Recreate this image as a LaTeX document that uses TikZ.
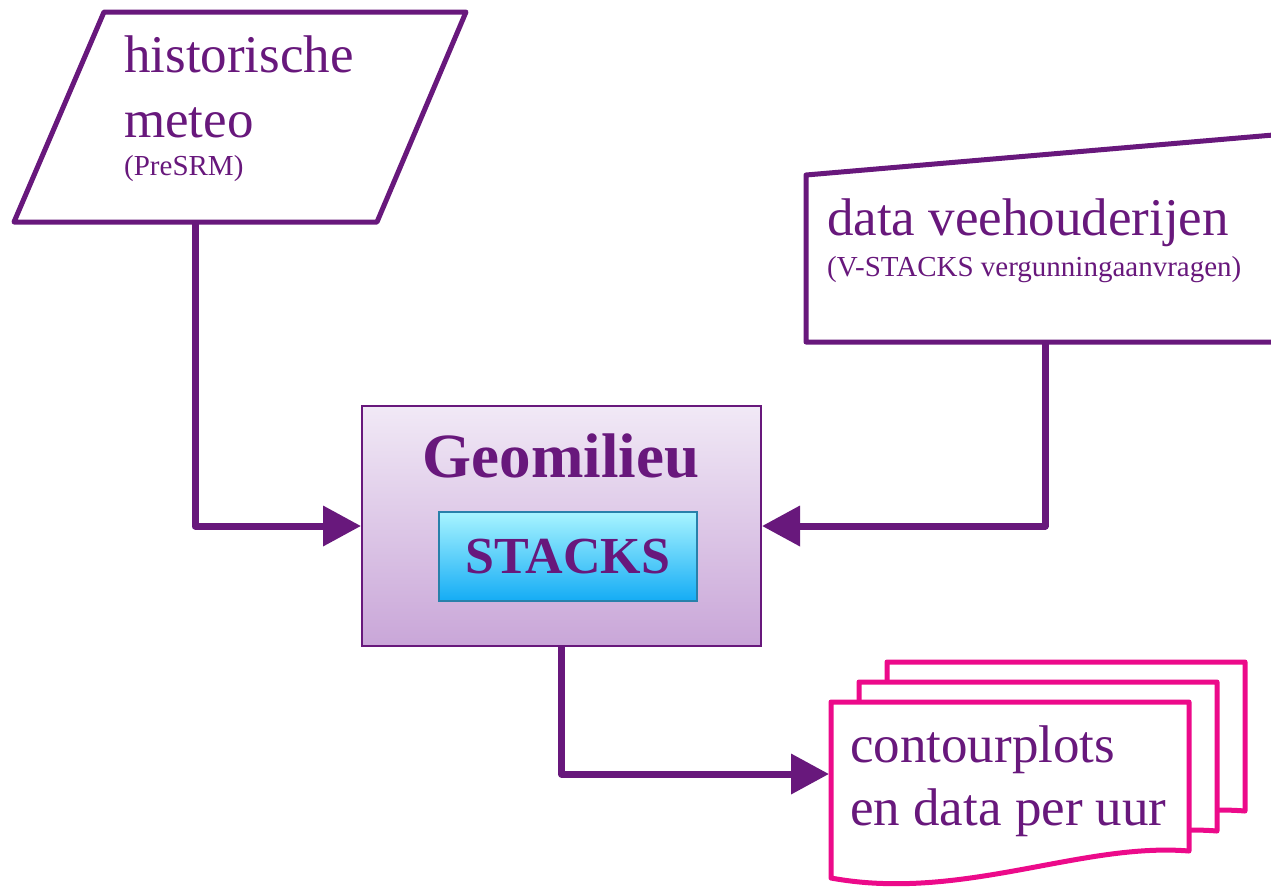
\documentclass[tikz,border=0pt]{standalone}
\usepackage{fontspec}
\setmainfont{Liberation Serif}
\usetikzlibrary{arrows.meta}

\definecolor{meteopurple}{RGB}{104,24,124}
\definecolor{plotpink}{RGB}{236,10,138}
\definecolor{geotop}{RGB}{241,233,246}
\definecolor{geobottom}{RGB}{201,166,216}
\definecolor{stackstop}{RGB}{168,244,255}
\definecolor{stacksbottom}{RGB}{20,172,245}
\definecolor{stacksedge}{RGB}{40,128,170}

\begin{document}
\begin{tikzpicture}[x=1pt, y=-1pt,
	bigtext/.style={font=\fontsize{53}{60}\selectfont, text=meteopurple, inner sep=0, anchor=base west},
	smalltext/.style={font=\fontsize{29}{34}\selectfont, text=meteopurple, inner sep=0, anchor=base west},
	inbox/.style={draw=meteopurple, line width=5pt, line join=round, fill=white},
	docbox/.style={draw=plotpink, line width=5pt, line join=round, fill=white},
	conn/.style={draw=meteopurple, line width=7pt, line join=round, -{Triangle[length=38pt,width=39pt]}}]

	\useasboundingbox (0,0) rectangle (1271,887);
	\clip (0,0) rectangle (1271,887);

	% inputs
	\draw[inbox] (104,12) -- (466,12) -- (377,222) -- (14,222) -- cycle;
	\coordinate (meteo-out) at (195,222);
	\node[bigtext] (meteo1) at (124,72) {historische};
	\node[bigtext] (meteo2) at (124,137) {meteo};
	\node[smalltext] (meteo3) at (124,175) {(PreSRM)};

	\draw[inbox] (806,175) -- (1320,131) -- (1320,342) -- (806,342) -- cycle;
	\coordinate (data-out) at (1045,342);
	\node[bigtext] (data1) at (827,235) {data veehouderijen};
	\node[smalltext] (data2) at (827,276) {(V-STACKS vergunningaanvragen)};

	% model
	\node[draw=meteopurple, line width=2pt, top color=geotop, bottom color=geobottom,
		minimum width=399pt, minimum height=240pt, inner sep=0] (geo) at (561.5,526) {};
	\node[font=\bfseries\fontsize{63}{70}\selectfont, text=meteopurple, inner sep=0, anchor=base] (geotitle) at (561,477) {Geomilieu};
	\node[draw=stacksedge, line width=1.5pt, top color=stackstop, bottom color=stacksbottom,
		minimum width=258pt, minimum height=89pt, inner sep=0,
		font=\bfseries\fontsize{52}{60}\selectfont, text=meteopurple] (stacks) at (568,556.5) {STACKS};

	% output
	\foreach \i in {2,1,0} {
		\draw[docbox, shift={(831+28*\i,702-20*\i)}] (0,0) -- (358,0) -- (358,149)
			.. controls (250,140) and (130,200) .. (0,176) -- cycle;
	}
	\coordinate (plots-in) at (829,774);
	\node[bigtext] (plots1) at (850,762) {contourplots};
	\node[bigtext] (plots2) at (850,825) {en data per uur};

	% connectors
	\draw[conn] (meteo-out) |- (geo.west);
	\draw[conn] (data-out) |- (geo.east);
	\draw[conn] (geo.south) |- (plots-in);
\end{tikzpicture}
\end{document}
